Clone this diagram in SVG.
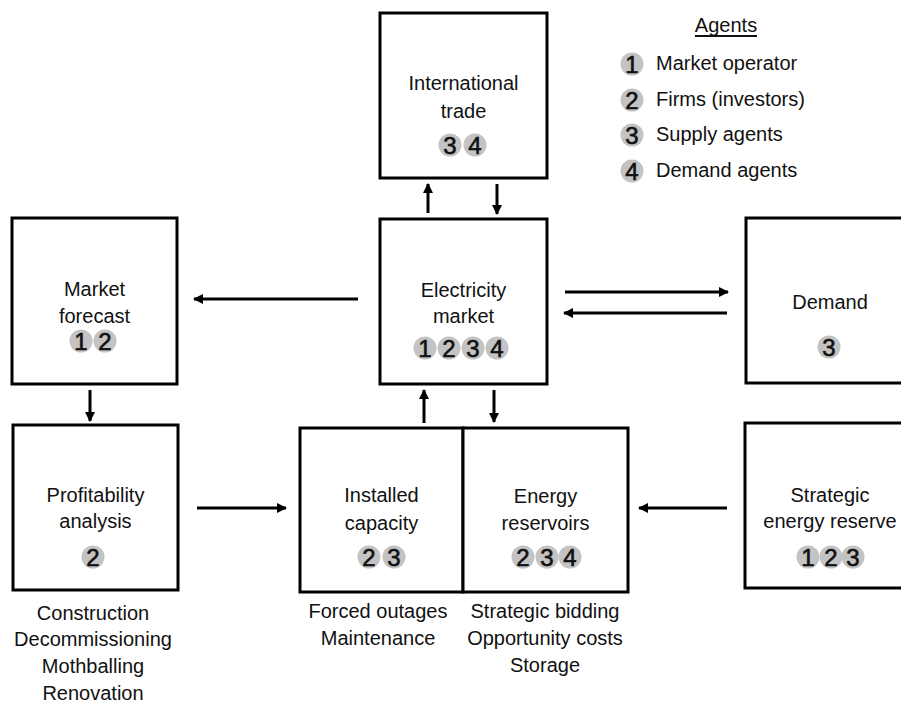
<svg xmlns="http://www.w3.org/2000/svg" width="901" height="707" viewBox="0 0 901 707">
<style>
.box{fill:#fff;stroke:#000;stroke-width:3}
.t{font-family:"Liberation Sans",Arial,sans-serif;font-size:20px;fill:#111;text-anchor:middle}
.tl{font-family:"Liberation Sans",Arial,sans-serif;font-size:20px;fill:#111;text-anchor:start}
.b{fill:#c3c3c3}
.d{font-family:"Liberation Sans",Arial,sans-serif;font-size:24px;fill:#111;stroke:#111;stroke-width:0.6;text-anchor:middle}
.c{stroke:#000;stroke-width:3;fill:none;marker-end:url(#ah)}
</style>
<defs>
<marker id="ah" viewBox="0 0 10 10" refX="9" refY="5" markerWidth="10" markerHeight="11" markerUnits="userSpaceOnUse" orient="auto">
<path d="M0,0 L10,5 L0,10 Z" fill="#000"/>
</marker>
<g id="b1"><circle r="11.5" class="b"/><text y="8.5" class="d">1</text></g>
<g id="b2"><circle r="11.5" class="b"/><text y="8.5" class="d">2</text></g>
<g id="b3"><circle r="11.5" class="b"/><text y="8.5" class="d">3</text></g>
<g id="b4"><circle r="11.5" class="b"/><text y="8.5" class="d">4</text></g>
</defs>
<rect width="901" height="707" fill="#fff"/>

<g id="connectors">
<line class="c" x1="428" y1="213" x2="428" y2="184"/>
<line class="c" x1="497" y1="184" x2="497" y2="214"/>
<line class="c" x1="358" y1="299" x2="194" y2="299"/>
<line class="c" x1="565" y1="292" x2="728" y2="292"/>
<line class="c" x1="727" y1="313" x2="564" y2="313"/>
<line class="c" x1="424" y1="423" x2="424" y2="390"/>
<line class="c" x1="494" y1="390" x2="494" y2="422"/>
<line class="c" x1="90" y1="390" x2="90" y2="421"/>
<line class="c" x1="197" y1="508" x2="286" y2="508"/>
<line class="c" x1="727" y1="508" x2="639" y2="508"/>
</g>

<g id="international-trade">
<rect class="box" x="380" y="13" width="167" height="165"/>
<text class="t" x="463.5" y="90">International</text>
<text class="t" x="463.5" y="118">trade</text>
<use href="#b3" x="450" y="145"/><use href="#b4" x="475" y="145"/>
</g>

<g id="electricity-market">
<rect class="box" x="380" y="219" width="167" height="165"/>
<text class="t" x="463.5" y="297">Electricity</text>
<text class="t" x="463.5" y="323">market</text>
<use href="#b1" x="425" y="348"/><use href="#b2" x="449" y="348"/><use href="#b3" x="473" y="348"/><use href="#b4" x="497" y="348"/>
</g>

<g id="market-forecast">
<rect class="box" x="12" y="218" width="165" height="166"/>
<text class="t" x="94.5" y="296">Market</text>
<text class="t" x="94.5" y="323">forecast</text>
<use href="#b1" x="81" y="341"/><use href="#b2" x="105" y="341"/>
</g>

<g id="demand">
<rect class="box" x="746" y="218" width="168" height="165"/>
<text class="t" x="830" y="309">Demand</text>
<use href="#b3" x="829" y="347"/>
</g>

<g id="profitability-analysis">
<rect class="box" x="13" y="425" width="165" height="165"/>
<text class="t" x="95.5" y="502">Profitability</text>
<text class="t" x="95.5" y="528">analysis</text>
<use href="#b2" x="93" y="557"/>
<text class="t" x="93" y="620">Construction</text>
<text class="t" x="93" y="646">Decommissioning</text>
<text class="t" x="93" y="673">Mothballing</text>
<text class="t" x="93" y="700">Renovation</text>
</g>

<g id="installed-capacity">
<rect class="box" x="300" y="428" width="163" height="164"/>
<text class="t" x="381.5" y="502">Installed</text>
<text class="t" x="381.5" y="530">capacity</text>
<use href="#b2" x="369" y="557"/><use href="#b3" x="394" y="557"/>
<text class="t" x="378" y="618">Forced outages</text>
<text class="t" x="378" y="645">Maintenance</text>
</g>

<g id="energy-reservoirs">
<rect class="box" x="463" y="428" width="165" height="164"/>
<text class="t" x="545.5" y="503">Energy</text>
<text class="t" x="545.5" y="530">reservoirs</text>
<use href="#b2" x="523" y="557"/><use href="#b3" x="547" y="557"/><use href="#b4" x="570" y="557"/>
<text class="t" x="545" y="618">Strategic bidding</text>
<text class="t" x="545" y="645">Opportunity costs</text>
<text class="t" x="545" y="672">Storage</text>
</g>

<g id="strategic-energy-reserve">
<rect class="box" x="745" y="423" width="170" height="165"/>
<text class="t" x="830" y="502">Strategic</text>
<text class="t" x="830" y="528">energy reserve</text>
<use href="#b1" x="808" y="557"/><use href="#b2" x="831" y="557"/><use href="#b3" x="853" y="557"/>
</g>

<g id="legend">
<text class="t" x="726" y="32">Agents</text>
<line x1="695" y1="36" x2="757" y2="36" stroke="#111" stroke-width="2"/>
<use href="#b1" x="632" y="64"/><text class="tl" x="656" y="70">Market operator</text>
<use href="#b2" x="632" y="100"/><text class="tl" x="656" y="106">Firms (investors)</text>
<use href="#b3" x="632" y="135"/><text class="tl" x="656" y="141">Supply agents</text>
<use href="#b4" x="632" y="171"/><text class="tl" x="656" y="177">Demand agents</text>
</g>
</svg>
